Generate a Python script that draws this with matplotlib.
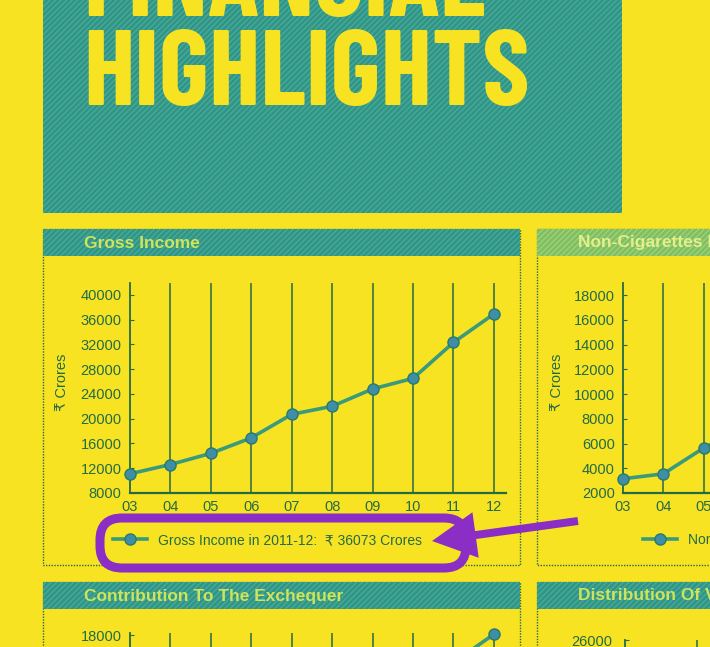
import matplotlib
matplotlib.use("Agg")
import matplotlib.pyplot as plt
from matplotlib.patches import Rectangle, FancyBboxPatch, FancyArrow

# data
years = ["03", "04", "05", "06", "07", "08", "09", "10", "11", "12"]
gross_income = [11100, 12600, 14400, 16900, 20700, 22000, 24800, 26500, 32300, 36900]
gross_ticks = [8000, 12000, 16000, 20000, 24000, 28000, 32000, 36000, 40000]
noncig = [3150, 3550, 5650, 7200]
noncig_ticks = [2000, 4000, 6000, 8000, 10000, 12000, 14000, 16000, 18000]
exchequer = [6800, 7600, 8600, 9900, 10900, 11500, 12300, 13400, 15800, 18100]
exchequer_ticks = [18000]
distribution_ticks = [26000]

W, H = 710, 647
YELLOW = "#f8e322"
TEAL = "#2f9585"
TEAL_HATCH = "#4aa99a"
DARK = "#236b45"
LINE = "#3a9a7c"
MARKER = "#3d8ea6"
PURPLE = "#8b2ec6"
FONT = ["Liberation Sans", "DejaVu Sans"]
TITLE_FONT = ["Barlow Condensed", "Liberation Sans", "DejaVu Sans"]

plt.rcParams["font.family"] = FONT

fig = plt.figure(figsize=(W / 100, H / 100), dpi=100)
fig.patch.set_facecolor(YELLOW)

bg = fig.add_axes([0, 0, 1, 1], zorder=0)
bg.set_xlim(0, W)
bg.set_ylim(H, 0)
bg.axis("off")


def px_axes(l, t, r, b, z=2):
    a = fig.add_axes([l / W, 1 - b / H, (r - l) / W, (b - t) / H], zorder=z)
    a.patch.set_alpha(0)
    return a


# title block
bg.add_patch(Rectangle((43, -5), 579, 218, facecolor=TEAL, edgecolor=TEAL_HATCH,
                       hatch="//////", lw=0))
bg.text(83, 16, "FINANCIAL", color=YELLOW, fontsize=77, fontweight="bold",
        family=TITLE_FONT, va="baseline")
bg.text(83, 105, "HIGHLIGHTS", color=YELLOW, fontsize=77, fontweight="bold",
        family=TITLE_FONT, va="baseline")

# panel frames and header bands
panels = [
    (43, 229, 520, 565, "Gross Income", TEAL, TEAL_HATCH, "#cfe45a"),
    (537, 229, 780, 565, "Non-Cigarettes FMCG Businesses", "#7fbf62", "#9fd07a", "#e4ef8a"),
    (43, 582, 520, 720, "Contribution To The Exchequer", TEAL, TEAL_HATCH, "#cfe45a"),
    (537, 582, 780, 720, "Distribution Of Value Added", TEAL, TEAL_HATCH, "#cfe45a"),
]
for l, t, r, b, name, fc, hc, tc in panels:
    bg.add_patch(Rectangle((l, t), r - l, b - t, facecolor="none", edgecolor=DARK,
                           lw=1.0, ls=(0, (1, 1))))
    bg.add_patch(Rectangle((l, t), r - l, 27, facecolor=fc, edgecolor=hc,
                           hatch="//////", lw=0))
    bg.text(l + 41, t + 14, name, color=tc, fontsize=12.5, fontweight="bold", va="center")


def style(ax, ticks, ylim):
    ax.set_xlim(0, 9.3)
    ax.set_ylim(*ylim)
    for s in ["top", "right"]:
        ax.spines[s].set_visible(False)
    ax.spines["left"].set_color(DARK)
    ax.spines["bottom"].set_color(DARK)
    ax.spines["left"].set_linewidth(1.3)
    ax.spines["bottom"].set_linewidth(1.6)
    ax.set_yticks(ticks)
    ax.set_yticklabels([str(t) for t in ticks])
    ax.tick_params(axis="y", direction="in", length=3, color=DARK, labelcolor=DARK,
                   labelsize=10.5, pad=6)
    ax.set_xticks(range(len(years)))
    ax.set_xticklabels(years)
    ax.tick_params(axis="x", length=0, labelcolor=DARK, labelsize=10.5, pad=5)
    for i in range(1, len(years)):
        ax.axvline(i, color=DARK, lw=1.1, zorder=1)


def series(ax, vals, label):
    ln, = ax.plot(range(len(vals)), vals, color=LINE, lw=2.6, marker="o", ms=8,
                  markerfacecolor=MARKER, markeredgecolor="#2a7a68", markeredgewidth=1,
                  zorder=3, label=label, clip_on=False)
    return ln


# Gross Income
ax1 = px_axes(130, 283, 506, 493)
style(ax1, gross_ticks, (8000, 41900))
l1 = series(ax1, gross_income, "Gross Income in 2011-12:  \u20b9 36073 Crores")
bg.text(62, 382, "\u20b9 Crores", rotation=90, color=DARK, fontsize=10.5,
        ha="center", va="center")
ax1.legend(handles=[l1], loc="center left", bbox_to_anchor=(100 / W, 1 - 540 / H),
           bbox_transform=fig.transFigure, frameon=False, handlelength=2.5,
           handletextpad=0.75, labelcolor=DARK, fontsize=10)

# Non-Cigarettes FMCG
ax2 = px_axes(623, 283, 999, 493)
style(ax2, noncig_ticks, (2000, 18970))
l2 = series(ax2, noncig, "Non-Cigarettes FMCG Businesses in 2011-12")
bg.text(557, 382, "\u20b9 Crores", rotation=90, color=DARK, fontsize=10.5,
        ha="center", va="center")
ax2.legend(handles=[l2], loc="center left", bbox_to_anchor=(630 / W, 1 - 540 / H),
           bbox_transform=fig.transFigure, frameon=False, handlelength=2.5,
           handletextpad=0.75, labelcolor=DARK, fontsize=10)

# Contribution To The Exchequer
ax3 = px_axes(130, 633, 506, 833)
style(ax3, exchequer_ticks, (2000, 18200))
series(ax3, exchequer, "Contribution")

# Distribution Of Value Added
ax4 = px_axes(625, 640, 985, 840)
ax4.set_xlim(0, 5)
ax4.set_ylim(0, 26000)
for s in ["top", "right"]:
    ax4.spines[s].set_visible(False)
ax4.spines["left"].set_color(DARK)
ax4.spines["left"].set_linewidth(1.3)
ax4.set_yticks(distribution_ticks)
ax4.tick_params(axis="y", direction="in", length=3, color=DARK, labelcolor=DARK,
                labelsize=10.5, pad=9)
ax4.set_xticks([])
for i in range(1, 5):
    ax4.axvline(i, color=DARK, lw=1.1)

# purple call-out
fg = fig.add_axes([0, 0, 1, 1], zorder=5)
fg.set_xlim(0, W)
fg.set_ylim(H, 0)
fg.axis("off")
fg.add_patch(FancyBboxPatch((100, 518), 366, 50,
                            boxstyle="round,pad=0,rounding_size=22",
                            facecolor="none", edgecolor=PURPLE, lw=6.5))
fg.add_patch(FancyArrow(578, 521, -146, 20, width=8, head_width=46, head_length=44,
                        length_includes_head=True, color=PURPLE, lw=0))

fig.savefig("out.png", dpi=100, facecolor=YELLOW)
